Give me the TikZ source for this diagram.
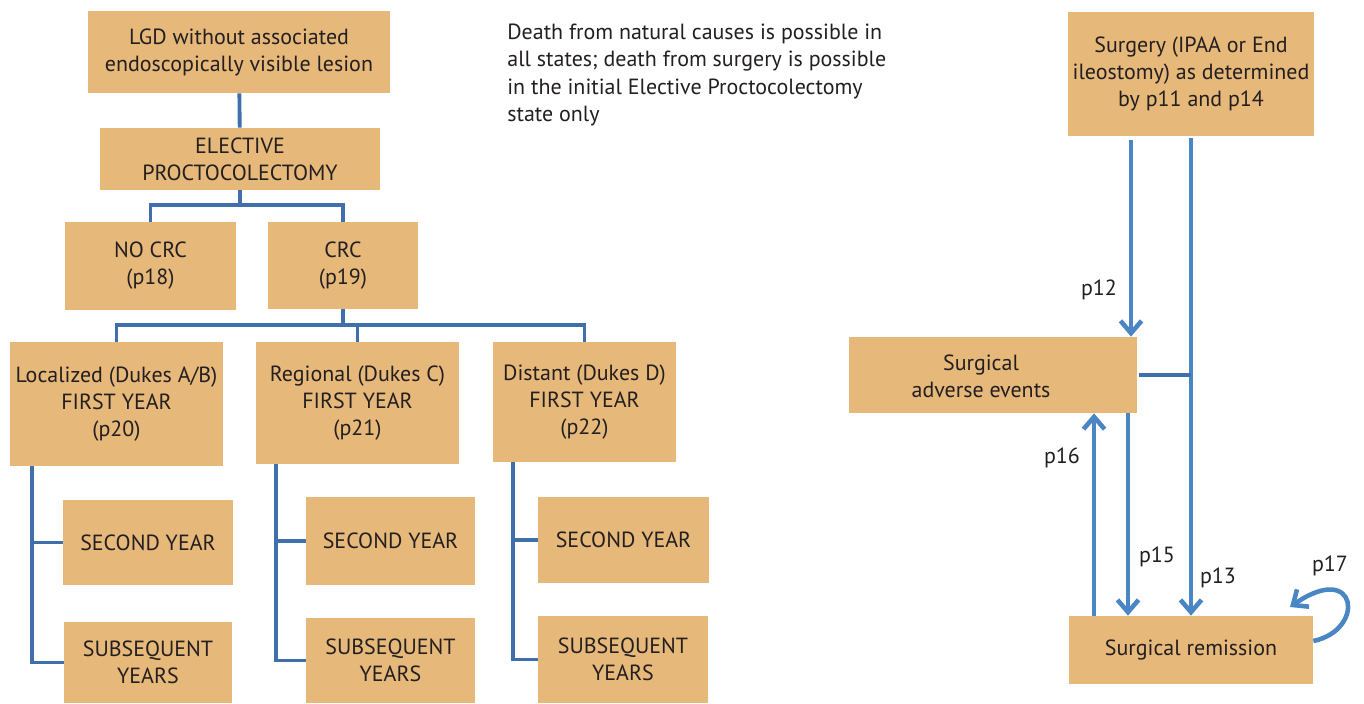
\documentclass[tikz,border=0pt]{standalone}
\usepackage{fontspec}
\setmainfont{PT Sans}
\usetikzlibrary{arrows.meta}
\definecolor{boxfill}{HTML}{E6B87A}
\definecolor{treeblue}{HTML}{3F70AB}
\definecolor{arrblue}{HTML}{4A85C4}
\definecolor{txt}{HTML}{231F20}
\begin{document}
\begin{tikzpicture}[x=0.02cm,y=-0.02cm,
  every node/.style={text=txt,font=\fontsize{12.5}{15.4}\selectfont},
  box/.style={fill=boxfill,draw=none,align=center,inner sep=0pt},
  tree/.style={draw=treeblue,line width=2.2pt},
  arr/.style={draw=arrblue,line width=2.6pt,-{Straight Barb[length=7pt,width=12pt]}}]
\useasboundingbox (0,0) rectangle (1364,703);

\node[box,minimum width=6.04cm,minimum height=1.64cm] (lgd) at (239,52) {LGD without associated\\endoscopically visible lesion};
\node[box,minimum width=5.6cm,minimum height=1.24cm] (elect) at (240,159) {ELECTIVE\\PROCTOCOLECTOMY};
\node[box,minimum width=3.42cm,minimum height=1.76cm] (nocrc) at (150.5,266) {NO CRC\\(p18)};
\node[box,minimum width=3.0cm,minimum height=1.74cm] (crc) at (343,265.5) {CRC\\(p19)};
\node[box,minimum width=4.26cm,minimum height=2.48cm] (loc) at (116.5,404) {Localized (Dukes A/B)\\FIRST YEAR\\(p20)};
\node[box,minimum width=4.06cm,minimum height=2.44cm] (reg) at (357.5,403) {Regional (Dukes C)\\FIRST YEAR\\(p21)};
\node[box,minimum width=3.66cm,minimum height=2.4cm] (dist) at (584.5,402) {Distant (Dukes D)\\FIRST YEAR\\(p22)};
\node[box,minimum width=3.4cm,minimum height=1.7cm] (sec1) at (148,542.5) {SECOND YEAR};
\node[box,minimum width=3.36cm,minimum height=1.62cm] (sub1) at (148,662.5) {SUBSEQUENT\\YEARS};
\node[box,minimum width=3.38cm,minimum height=1.76cm] (sec2) at (390.5,541) {SECOND YEAR};
\node[box,minimum width=3.38cm,minimum height=1.7cm] (sub2) at (390.5,660.5) {SUBSEQUENT\\YEARS};
\node[box,minimum width=3.42cm,minimum height=1.72cm] (sec3) at (623.5,540) {SECOND YEAR};
\node[box,minimum width=3.4cm,minimum height=1.74cm] (sub3) at (623,659.5) {SUBSEQUENT\\YEARS};

\node[align=left,anchor=north west,inner sep=0pt] (note) at (507,24) {Death from natural causes is possible in\\all states; death from surgery is possible\\in the initial Elective Proctocolectomy\\state only};

\node[box,minimum width=4.92cm,minimum height=2.48cm] (surg) at (1191,74) {Surgery (IPAA or End\\ileostomy) as determined\\by p11 and p14};
\node[box,minimum width=5.76cm,minimum height=1.52cm] (adv) at (993,375) {};
\node (advtext) at (981,376) [align=center] {Surgical\\adverse events};
\node[box,minimum width=4.88cm,minimum height=1.36cm] (rem) at (1191,650) {Surgical remission};

\draw[tree] (lgd) -- (elect);
\draw[tree] (elect.south) -- ++(0,15) coordinate (b1) -| (nocrc.north);
\draw[tree] (b1) -| (crc.north);
\draw[tree] (crc.south) -- ++(0,16) coordinate (b2) -| (loc.north);
\draw[tree] (b2) -| (reg.north);
\draw[tree] (b2) -| (dist.north);

\draw[tree] ([xshift=.44cm]loc.south west) coordinate (s1) |- (sub1.west);
\draw[tree] (sec1.west) -- (sec1.west -| s1);
\draw[tree] ([xshift=.4cm]reg.south west) coordinate (s2) |- (sub2.west);
\draw[tree] (sec2.west) -- (sec2.west -| s2);
\draw[tree] ([xshift=.4cm]dist.south west) coordinate (s3) |- (sub3.west);
\draw[tree] (sec3.west) -- (sec3.west -| s3);

\draw[arr,shorten <=0.08cm] ([xshift=-1.2cm]surg.south) -- ([xshift=-1.2cm]surg.south |- adv.north);
\draw[arr,shorten <=0.04cm] (surg.south) -- (rem.north);
\draw[draw=treeblue,line width=2.6pt,shorten <=0.04cm] (adv.east) -- (adv.east -| surg.south);
\draw[arr] ([xshift=-1.94cm]rem.north) -- ([xshift=-1.94cm]rem.north |- adv.south);
\draw[arr] ([xshift=-1.26cm]adv.south -| rem.north) -- ([xshift=-1.26cm]rem.north);
\coordinate (loopend) at (1290,607);
\draw[arr] ([yshift=0.18cm]rem.east) .. controls (1366,630) and (1358,560) .. (loopend);

\node (p12) at (1099,290) {p12};
\node (p16) at (1062,458) {p16};
\node (p15) at (1157,557) {p15};
\node (p13) at (1218,578) {p13};
\node (p17) at (1330,566) {p17};
\end{tikzpicture}
\end{document}
